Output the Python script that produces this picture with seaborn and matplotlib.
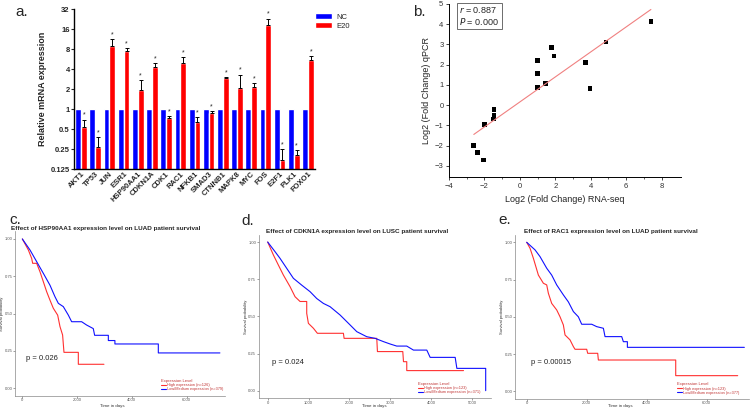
import numpy as np
import pandas as pd
import matplotlib
matplotlib.use("Agg")
import matplotlib.pyplot as plt
import seaborn as sns

sns.set_style("white")
plt.rcParams["font.family"] = ["Liberation Sans", "DejaVu Sans"]

# --------------------------------------------------------------
# Data
# --------------------------------------------------------------
genes = ["AKT1", "TP53", "JUN", "ESR1", "HSP90AA1", "CDKN1A", "CDK1", "RAC1",
         "NFKB1", "SMAD3", "CTNNB1", "MAPK8", "MYC", "FOS", "E2F1", "PLK1", "FOXO1"]
nc_expr = [1] * 17
e20_expr = [0.54, 0.27, 9.0, 7.4, 1.91, 4.3, 0.74, 4.87, 0.64, 0.88,
            2.96, 2.1, 2.14, 18.6, 0.173, 0.20, 5.4]
e20_err_top = [0.69, 0.38, 11.4, 8.3, 2.7, 4.9, 0.79, 6.0, 0.76, 0.92,
               3.03, 3.3, 2.46, 22.9, 0.25, 0.24, 6.2]

rnaseq_fc = [-2.6, -2.38, -2.04, -2.0, -1.45, -1.45, -1.5, 1.0, 1.0, 1.0,
             1.45, 1.8, 1.93, 3.7, 3.97, 4.87, 7.4]
qpcr_fc = [-2.0, -2.35, -2.71, -0.95, -0.2, -0.49, -0.69, 2.2, 1.56, 0.87,
           1.07, 2.86, 2.43, 2.1, 0.82, 3.12, 4.14]

# survival curves (vertices of the KM step curves)
c_low_t = [0, 280, 523, 766, 1010, 1190, 1314, 1496, 1680, 1800, 2165, 2345, 2590, 2640,
           3140, 3140, 3380, 3380, 4965, 4965, 7214]
c_low_s = [1.0, 0.926, 0.848, 0.77, 0.69, 0.614, 0.569, 0.547, 0.49, 0.446, 0.446, 0.424,
           0.40, 0.355, 0.355, 0.32, 0.32, 0.297, 0.297, 0.237, 0.237]
c_high_t = [0, 220, 340, 377, 523, 645, 766, 888, 1010, 1131, 1290, 1375, 1470, 1520,
            2044, 2044, 2980]
c_high_s = [1.0, 0.926, 0.87, 0.837, 0.837, 0.78, 0.714, 0.647, 0.59, 0.536, 0.49, 0.413,
            0.357, 0.241, 0.241, 0.161, 0.161]

d_low_t = [0, 180, 302, 465, 628, 832, 1036, 1199, 1362, 1525, 1770, 2015, 2178, 2422,
           2626, 2830, 2993, 3155, 3400, 3564, 3890, 3972, 4584, 4625, 5330, 5330]
d_low_s = [1.0, 0.935, 0.89, 0.823, 0.756, 0.71, 0.666, 0.62, 0.587, 0.565, 0.509, 0.442,
           0.397, 0.363, 0.352, 0.33, 0.314, 0.30, 0.30, 0.273, 0.273, 0.224, 0.224, 0.15,
           0.15, 0.0]
d_high_t = [0, 139, 261, 383, 546, 669, 791, 954, 954, 995, 1117, 1215, 1851, 1868, 2667,
            2683, 3303, 3320, 3400, 3400, 4788]
d_high_s = [1.0, 0.913, 0.845, 0.778, 0.70, 0.632, 0.6, 0.6, 0.52, 0.453, 0.42, 0.386,
            0.386, 0.352, 0.352, 0.263, 0.263, 0.195, 0.195, 0.135, 0.135]

e_low_t = [0, 278, 444, 667, 833, 1000, 1222, 1389, 1556, 1722, 1833, 2167, 2333, 2556,
           2611, 3167, 3222, 3356, 3356, 7255]
e_low_s = [1.0, 0.949, 0.904, 0.826, 0.78, 0.714, 0.647, 0.60, 0.535, 0.50, 0.45, 0.45,
           0.434, 0.423, 0.367, 0.367, 0.333, 0.333, 0.295, 0.295]
e_high_t = [0, 111, 222, 389, 556, 667, 722, 833, 1000, 1111, 1222, 1278, 1444, 1556,
            1611, 2000, 2033, 2367, 2389, 4967, 4967, 7033]
e_high_s = [1.0, 0.96, 0.893, 0.78, 0.725, 0.714, 0.658, 0.59, 0.546, 0.50, 0.445, 0.378,
            0.345, 0.30, 0.282, 0.282, 0.255, 0.255, 0.21, 0.21, 0.105, 0.105]

W, H = 755, 408
fig = plt.figure(figsize=(W / 100, H / 100), dpi=100)


def px_axes(left, top, right, bottom):
    return fig.add_axes([left / W, 1 - bottom / H, (right - left) / W, (bottom - top) / H])


# --------------------------------------------------------------
# a. bar chart
# --------------------------------------------------------------
ax = px_axes(74, 9, 315, 169)
bar_df = pd.DataFrame({
    "gene": genes * 2,
    "value": nc_expr + e20_expr,
    "group": ["NC"] * 17 + ["E20"] * 17,
})
sns.barplot(data=bar_df, x="gene", y="value", hue="group", palette=["#0000FF", "#FF0000"],
            width=0.82, gap=0.0, ax=ax, errorbar=None, saturation=1)
ax.set_yscale("log", base=2)
ax.set_ylim(0.125, 32)
ax.set_xlim(-0.5, 16.5)
yt = [0.125, 0.25, 0.5, 1, 2, 4, 8, 16, 32]
ax.set_yticks(yt)
ax.set_yticklabels(["0.125", "0.25", "0.5", "1", "2", "4", "8", "16", "32"],
                   fontsize=5.5, fontweight="bold")
ax.minorticks_off()
ax.tick_params(axis="y", length=2, width=0.8, pad=1, left=True)
ax.tick_params(axis="x", length=0, pad=1)
ax.set_xticks(range(17))
ax.set_xticklabels(genes, rotation=45, ha="right", rotation_mode="anchor",
                   fontsize=5.5, fontweight="bold")
ax.set_xlabel("")
ax.set_ylabel("Relative mRNA expression", fontsize=6.5, fontweight="bold", labelpad=3)
for s in ["top", "right"]:
    ax.spines[s].set_visible(False)
for s in ["left", "bottom"]:
    ax.spines[s].set_linewidth(1.0)
    ax.spines[s].set_color("black")

red_bars = ax.containers[1]
xs = [p.get_x() + p.get_width() / 2 for p in red_bars]
err_up = [t - v for t, v in zip(e20_err_top, e20_expr)]
ax.errorbar(xs, e20_expr, yerr=[np.zeros(17), err_up], fmt="none", ecolor="black",
            elinewidth=0.7, capsize=1.2, capthick=0.7)
for x, t in zip(xs, e20_err_top):
    ax.text(x, t * 1.03, "*", ha="center", va="bottom", fontsize=5)
ax.legend(loc="upper left", bbox_to_anchor=(311 / W, 1 - 9 / H), bbox_transform=fig.transFigure,
          frameon=False, fontsize=5.5, handlelength=2.2, handleheight=0.9,
          labelspacing=0.2, borderpad=0, handletextpad=0.6)
fig.text(15 / W, 1 - 12 / H, "a.", fontsize=11, va="center")

# --------------------------------------------------------------
# b. scatter with regression line
# --------------------------------------------------------------
ax = px_axes(449, 4, 681, 177)
sc_df = pd.DataFrame({"rnaseq": rnaseq_fc, "qpcr": qpcr_fc})
sns.regplot(data=sc_df, x="rnaseq", y="qpcr", scatter=False, ci=None, truncate=True,
            line_kws={"color": "#F08080", "lw": 0.8}, ax=ax)
sns.scatterplot(data=sc_df, x="rnaseq", y="qpcr", marker="s", color="black", s=11,
                edgecolor="none", ax=ax)
ax.set_xlim(-4, 9.1)
ax.set_ylim(-3.55, 5)
ax.set_xticks([-4, -2, 0, 2, 4, 6, 8])
ax.set_xticks(np.arange(-3, 9, 2), minor=True)
ax.set_yticks(range(-3, 6))
ax.tick_params(axis="both", which="major", labelsize=5.5, length=2.5, width=0.6,
               direction="out", pad=1.5, labelcolor="#333333", bottom=True, left=True)
ax.tick_params(axis="x", which="minor", length=1.5, width=0.5, direction="out", bottom=True)
for s in ["top", "right"]:
    ax.spines[s].set_visible(False)
for s in ["left", "bottom"]:
    ax.spines[s].set_linewidth(0.7)
    ax.spines[s].set_color("black")
ax.set_xlabel("Log2 (Fold Change) RNA-seq", fontsize=6.5, labelpad=4, color="#222222")
ax.set_ylabel("Log2 (Fold Change) qPCR", fontsize=6.5, labelpad=3, color="#222222")
ax.text(0.045, 0.995, "$\\it{r}$ = 0.887\n$\\it{P}$ = 0.000", transform=ax.transAxes,
        fontsize=6.5, va="top", ha="left", linespacing=1.1,
        bbox=dict(boxstyle="square,pad=0.25", fc="white", ec="#555555", lw=0.6))
fig.text(413 / W, 1 - 12 / H, "b.", fontsize=11, va="center")


# --------------------------------------------------------------
# c, d, e. survival curves
# --------------------------------------------------------------
def km_panel(box, xlim, xticks, high_t, high_s, low_t, low_s, n_high, n_low,
             title, title_xy, ptxt, p_xy, leg_xy, ylab_x, xlab_x, label, label_xy):
    ax = px_axes(*box)
    high_df = pd.DataFrame({"t": high_t, "s": high_s})
    low_df = pd.DataFrame({"t": low_t, "s": low_s})
    sns.lineplot(data=high_df, x="t", y="s", estimator=None, sort=False, color="#FF3030",
                 lw=0.8, ax=ax, label=f"High expression (n={n_high})")
    sns.lineplot(data=low_df, x="t", y="s", estimator=None, sort=False, color="#1010FF",
                 lw=0.8, ax=ax, label=f"Low/Medium expression (n={n_low})")
    ax.set_xlim(*xlim)
    ax.set_ylim(-0.05, 1.05)
    ax.set_xticks(xticks)
    ax.set_xticklabels([str(x) for x in xticks])
    ax.set_yticks([0, 0.25, 0.5, 0.75, 1.0])
    ax.set_yticklabels(["0.00", "0.25", "0.50", "0.75", "1.00"])
    ax.tick_params(axis="both", labelsize=3, length=1.2, width=0.4, pad=0.6,
                   colors="#555555", bottom=True, left=True)
    for s in ["top", "right"]:
        ax.spines[s].set_visible(False)
    for s in ["left", "bottom"]:
        ax.spines[s].set_linewidth(0.5)
        ax.spines[s].set_color("#888888")
    ax.set_xlabel("")
    ax.set_ylabel("")
    fig.text(ylab_x / W, 1 - (box[1] + box[3]) / 2 / H, "Survival probability", fontsize=3,
             rotation=90, ha="center", va="center", color="#333333")
    fig.text(xlab_x / W, 1 - 405.5 / H, "Time in days", fontsize=3.2,
             ha="center", va="center", color="#333333")
    fig.text(title_xy[0] / W, 1 - title_xy[1] / H, title, fontsize=4.6, fontweight="bold",
             ha="center", va="center")
    fig.text(p_xy[0] / W, 1 - p_xy[1] / H, ptxt, fontsize=5.5, ha="left", va="center",
             color="#222222")
    leg = ax.legend(loc="upper left", bbox_to_anchor=(leg_xy[0] / W, 1 - leg_xy[1] / H),
                    bbox_transform=fig.transFigure, frameon=False, fontsize=2.8,
                    title="Expression Level", title_fontsize=3, handlelength=1.2,
                    labelspacing=0.05, borderpad=0, handletextpad=0.4, labelcolor="#C03030")
    leg.get_title().set_color("#C03030")
    leg._legend_box.align = "left"
    fig.text(label_xy[0] / W, 1 - label_xy[1] / H, label, fontsize=11, va="center")


km_panel((15.5, 231.5, 225, 395.8), (-250, 7400), [0, 2000, 4000, 6000],
         c_high_t, c_high_s, c_low_t, c_low_s, 126, 379,
         "Effect of HSP90AA1 expression level on LUAD patient survival", (106, 228.5),
         "p = 0.026", (26, 359), (159, 377), 2.5, 112, "c.", (9, 220))
km_panel((258.7, 234.6, 490.6, 398.1), (-220, 5450), [0, 1000, 2000, 3000, 4000, 5000],
         d_high_t, d_high_s, d_low_t, d_low_s, 123, 371,
         "Effect of CDKN1A expression level on LUSC patient survival", (357, 231.5),
         "p = 0.024", (271.7, 362), (416, 380), 245.5, 374, "d.", (241, 221))
km_panel((515.3, 234.85, 748.7, 398.75), (-380, 7400), [0, 2000, 4000, 6000],
         e_high_t, e_high_s, e_low_t, e_low_s, 123, 377,
         "Effect of RAC1 expression level on LUAD patient survival", (611, 231.5),
         "p = 0.00015", (530.7, 362), (675, 380.5), 502, 620, "e.", (498, 220))

fig.savefig("out.png", dpi=100)
